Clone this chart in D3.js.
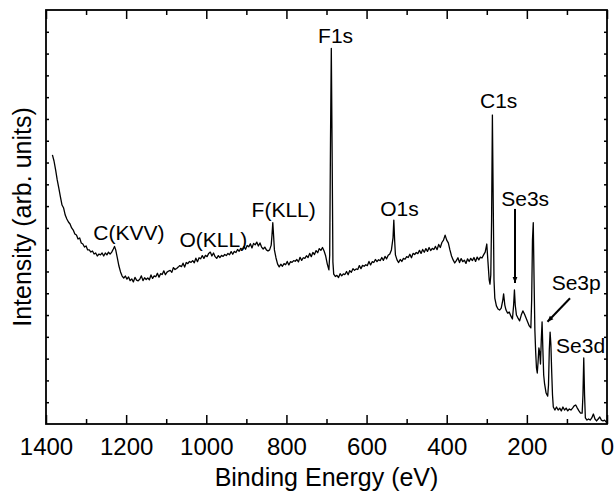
<!DOCTYPE html>
<html>
<head>
<meta charset="utf-8">
<script src="https://cdn.jsdelivr.net/npm/d3@7"></script>
<style>
  body { margin: 0; background: #fff; }
  text { font-family: "Liberation Sans", Arial, Helvetica, sans-serif; fill: #000; }
</style>
</head>
<body>
<div id="xps-chart"></div>
<script>
// --data--
const bindingEnergy = [
  1384, 1380, 1376, 1372, 1368, 1364, 1360, 1356, 1352, 1348, 1344, 1340, 1336, 1332, 1328, 1324,
  1320, 1316, 1312, 1308, 1304, 1300, 1296, 1292, 1288, 1284, 1280, 1276, 1272, 1268, 1264, 1260,
  1256, 1252, 1248, 1244, 1240, 1236, 1232, 1229, 1226, 1222, 1218, 1214, 1210, 1206, 1202, 1198,
  1194, 1190, 1186, 1182, 1178, 1174, 1170, 1166, 1162, 1158, 1154, 1150, 1146, 1142, 1138, 1134,
  1130, 1126, 1122, 1118, 1114, 1110, 1106, 1102, 1098, 1094, 1090, 1086, 1082, 1078, 1074, 1070,
  1066, 1062, 1058, 1054, 1050, 1046, 1042, 1038, 1034, 1030, 1026, 1022, 1018, 1014, 1010, 1006,
  1002, 998, 994, 990, 986, 982, 978, 974, 970, 966, 962, 958, 954, 950, 946, 942,
  938, 934, 930, 926, 922, 918, 914, 910, 906, 902, 898, 894, 890, 886, 882, 878,
  874, 870, 866, 862, 858, 854, 850, 846, 842, 838, 836, 834, 832, 830, 826, 822,
  818, 814, 810, 806, 802, 798, 794, 790, 786, 782, 778, 774, 770, 766, 762, 758,
  754, 750, 746, 742, 738, 734, 730, 726, 722, 718, 714, 710, 706, 702, 698, 694,
  692, 690, 688, 686, 684, 682, 678, 674, 670, 666, 662, 658, 654, 650, 646, 642,
  638, 634, 630, 626, 622, 618, 614, 610, 606, 602, 598, 594, 590, 586, 582, 578,
  574, 570, 566, 562, 558, 554, 550, 546, 542, 538, 534, 532, 530, 528, 524, 520,
  516, 512, 508, 504, 500, 496, 492, 488, 484, 480, 476, 472, 468, 464, 460, 456,
  452, 448, 444, 440, 436, 432, 428, 424, 420, 416, 412, 408, 404, 400, 396, 392,
  388, 384, 380, 376, 372, 368, 364, 360, 356, 352, 348, 344, 340, 336, 332, 328,
  324, 320, 316, 312, 308, 304, 300, 297, 294, 292, 290, 288, 286, 284, 282, 280,
  276, 272, 268, 264, 260, 258, 255, 252, 248, 244, 240, 236, 233, 231, 229, 226,
  222, 218, 214, 210, 206, 202, 198, 194, 190, 188, 186, 184, 182, 180, 178, 176,
  174, 172, 170, 168, 166, 164, 162, 160, 158, 156, 152, 148, 146, 144, 142, 140,
  138, 136, 134, 130, 126, 122, 118, 114, 110, 106, 102, 98, 94, 90, 86, 82,
  78, 74, 70, 66, 62, 60, 58, 56, 54, 50, 46, 42, 38, 34, 30, 26,
  22, 18, 14, 10, 6, 2, 0
];

const intensity = [
  12.35, 12.07, 11.66, 11.20, 10.83, 10.42, 10.05, 9.91, 9.59, 9.41, 9.27, 9.18, 9.00, 8.90, 8.72, 8.67,
  8.49, 8.54, 8.31, 8.26, 8.12, 8.17, 7.99, 7.99, 7.89, 7.94, 7.80, 7.85, 7.71, 7.80, 7.76, 7.85,
  7.71, 7.85, 7.76, 7.89, 7.80, 7.89, 8.03, 8.15, 7.99, 7.62, 7.25, 6.98, 6.79, 6.70, 6.79, 6.65,
  6.75, 6.58, 6.66, 6.52, 6.73, 6.60, 6.57, 6.64, 6.80, 6.58, 6.71, 6.63, 6.70, 6.62, 6.84, 6.68,
  6.80, 6.76, 6.92, 6.74, 6.90, 6.86, 7.03, 6.85, 6.97, 7.02, 7.05, 6.96, 7.18, 7.09, 7.14, 7.20,
  7.27, 7.22, 7.38, 7.20, 7.41, 7.36, 7.46, 7.42, 7.50, 7.40, 7.61, 7.45, 7.63, 7.58, 7.73, 7.60,
  7.74, 7.68, 7.83, 7.89, 7.71, 7.85, 7.68, 7.60, 7.73, 7.64, 7.74, 7.69, 7.78, 7.73, 7.83, 7.77,
  7.91, 7.79, 7.92, 7.87, 8.01, 7.93, 8.06, 8.00, 8.14, 8.02, 8.19, 8.13, 8.27, 8.08, 8.29, 8.22,
  8.35, 8.17, 8.31, 8.12, 8.03, 8.12, 7.99, 7.94, 7.99, 8.21, 8.67, 9.24, 8.63, 7.99, 7.62, 7.34,
  7.21, 7.33, 7.24, 7.36, 7.31, 7.46, 7.30, 7.45, 7.42, 7.50, 7.47, 7.55, 7.44, 7.65, 7.51, 7.63,
  7.60, 7.72, 7.64, 7.83, 7.68, 7.87, 7.78, 7.96, 7.86, 8.05, 7.97, 8.10, 7.94, 7.71, 7.34, 7.07,
  7.76, 13.03, 17.24, 12.57, 7.43, 6.88, 6.77, 6.82, 6.72, 6.90, 6.80, 6.89, 6.86, 7.00, 6.85, 7.04,
  6.96, 7.13, 7.05, 7.12, 7.09, 7.27, 7.13, 7.28, 7.24, 7.31, 7.27, 7.46, 7.30, 7.45, 7.41, 7.55,
  7.45, 7.54, 7.50, 7.64, 7.51, 7.69, 7.58, 7.74, 7.80, 7.99, 8.54, 9.36, 8.44, 7.76, 7.53, 7.41,
  7.55, 7.46, 7.60, 7.56, 7.68, 7.64, 7.79, 7.63, 7.83, 7.78, 7.87, 7.82, 7.97, 7.83, 8.01, 7.88,
  8.05, 7.92, 8.10, 7.96, 8.06, 8.01, 8.15, 8.00, 8.24, 8.10, 8.33, 8.44, 8.67, 8.44, 8.31, 7.99,
  7.71, 7.53, 7.39, 7.50, 7.63, 7.41, 7.59, 7.45, 7.52, 7.37, 7.58, 7.46, 7.60, 7.50, 7.64, 7.46,
  7.66, 7.53, 7.66, 7.62, 7.76, 7.89, 8.26, 7.43, 6.61, 6.42, 6.84, 9.36, 14.18, 10.28, 6.61, 5.78,
  5.42, 5.28, 5.23, 5.32, 5.69, 5.97, 5.46, 5.23, 5.09, 5.14, 4.96, 4.82, 5.46, 6.15, 5.46, 5.00,
  4.86, 4.73, 5.00, 5.19, 5.05, 4.86, 4.68, 4.50, 4.41, 5.69, 8.44, 9.24, 6.61, 4.31, 3.30, 2.57,
  2.34, 2.85, 3.49, 3.30, 2.75, 3.85, 4.69, 3.40, 2.25, 1.88, 1.42, 1.28, 1.79, 3.40, 4.22, 3.63,
  2.39, 1.33, 0.78, 0.64, 0.78, 0.64, 0.73, 0.60, 0.78, 0.64, 0.73, 0.60, 0.69, 0.64, 0.73, 0.83,
  0.87, 0.73, 0.60, 0.50, 0.50, 1.33, 3.03, 1.33, 0.28, 0.18, 0.23, 0.18, 0.28, 0.46, 0.23, 0.14,
  0.23, 0.32, 0.18, 0.14, 0.18, 0.09, 0.09
];

const xMajorTicks = [1400, 1200, 1000, 800, 600, 400, 200, 0];
const xMinorTicks = [1300, 1100, 900, 700, 500, 300, 100];
const yTicks = [1, 2, 3, 4, 5, 6, 7, 8, 9, 10, 11, 12, 13, 14, 15, 16, 17, 18];

// peak labels: text, left edge (eV), baseline (intensity)
const peakNames = ["C(KVV)", "O(KLL)", "F(KLL)", "F1s", "O1s", "C1s", "Se3s", "Se3p", "Se3d"];
const peakLabelEnergy = [1282, 1067, 887, 721, 566, 317, 264, 138, 127];
const peakLabelIntensity = [8.44, 8.12, 9.50, 17.47, 9.55, 14.49, 10.0, 6.15, 3.24];

// arrows: [energy, intensity] start -> end
const arrowStart = [[229.6, 9.87], [92.3, 5.77]];
const arrowEnd = [[229.6, 6.47], [148.5, 4.69]];

// --graph--
const WIDTH = 615, HEIGHT = 493;
const margin = {top: 10, right: 8, bottom: 69, left: 46};
const innerW = WIDTH - margin.left - margin.right;
const innerH = HEIGHT - margin.top - margin.bottom;

var svg = d3.select("#xps-chart")
  .append("svg")
  .attr("width", WIDTH)
  .attr("height", HEIGHT);

svg.append("defs").append("marker")
  .attr("id", "arrow-head")
  .attr("viewBox", "0 0 10 10")
  .attr("refX", 10)
  .attr("refY", 5)
  .attr("markerWidth", 6)
  .attr("markerHeight", 6)
  .attr("markerUnits", "userSpaceOnUse")
  .attr("orient", "auto")
  .append("path")
  .attr("d", "M0,1 L10,5 L0,9 z")
  .attr("fill", "#000");

var g = svg.append("g")
  .attr("transform", `translate(${margin.left},${margin.top})`);

var x = d3.scaleLinear().domain([1400, 0]).range([0, innerW]);
var y = d3.scaleLinear().domain([0, 19]).range([innerH, 0]);

// spectrum
var spectrum = bindingEnergy.map((e, i) => [e, intensity[i]]);
g.append("path")
  .datum(spectrum)
  .attr("fill", "none")
  .attr("stroke", "#000")
  .attr("stroke-width", 1.3)
  .attr("stroke-linejoin", "round")
  .attr("d", d3.line().x(d => x(d[0])).y(d => y(d[1])));

// axes, ticks pointing inward on all four sides
function noLabels(sel) { sel.selectAll("text").remove(); }

g.append("g").attr("transform", `translate(0,${innerH})`)
  .call(d3.axisBottom(x).tickValues(xMajorTicks).tickSizeInner(-9).tickSizeOuter(0).tickFormat(d3.format("d")))
  .call(a => a.selectAll("text").attr("dy", 0).attr("y", 31).style("font-size", "24px"));
g.append("g").attr("transform", `translate(0,${innerH})`)
  .call(d3.axisBottom(x).tickValues(xMinorTicks).tickSizeInner(-5).tickSizeOuter(0))
  .call(noLabels);
g.append("g")
  .call(d3.axisTop(x).tickValues(xMajorTicks).tickSizeInner(-9).tickSizeOuter(0))
  .call(noLabels);
g.append("g")
  .call(d3.axisTop(x).tickValues(xMinorTicks).tickSizeInner(-5).tickSizeOuter(0))
  .call(noLabels);
g.append("g")
  .call(d3.axisLeft(y).tickValues(yTicks).tickSizeInner(-3).tickSizeOuter(0))
  .call(noLabels);
g.append("g").attr("transform", `translate(${innerW},0)`)
  .call(d3.axisRight(y).tickValues(yTicks).tickSizeInner(-3).tickSizeOuter(0))
  .call(noLabels);

g.selectAll(".domain").remove();
g.selectAll(".tick line").attr("stroke", "#000").attr("stroke-width", 1.5);

g.append("rect")
  .attr("width", innerW)
  .attr("height", innerH)
  .attr("fill", "none")
  .attr("stroke", "#000")
  .attr("stroke-width", 1.8);

// axis titles
svg.append("text")
  .attr("x", margin.left + innerW / 2)
  .attr("y", 486)
  .attr("text-anchor", "middle")
  .style("font-size", "25px")
  .text("Binding Energy (eV)");

svg.append("text")
  .attr("transform", `translate(31,${margin.top + innerH / 2}) rotate(-90)`)
  .attr("text-anchor", "middle")
  .style("font-size", "25px")
  .text("Intensity (arb. units)");

// peak annotations
g.selectAll(".peak-label")
  .data(peakNames)
  .enter()
  .append("text")
  .attr("class", "peak-label")
  .attr("x", (d, i) => x(peakLabelEnergy[i]))
  .attr("y", (d, i) => y(peakLabelIntensity[i]))
  .style("font-size", "21px")
  .text(d => d);

g.selectAll(".peak-arrow")
  .data(arrowStart)
  .enter()
  .append("line")
  .attr("class", "peak-arrow")
  .attr("x1", d => x(d[0]))
  .attr("y1", d => y(d[1]))
  .attr("x2", (d, i) => x(arrowEnd[i][0]))
  .attr("y2", (d, i) => y(arrowEnd[i][1]))
  .attr("stroke", "#000")
  .attr("stroke-width", 2)
  .attr("marker-end", "url(#arrow-head)");
</script>
</body>
</html>
